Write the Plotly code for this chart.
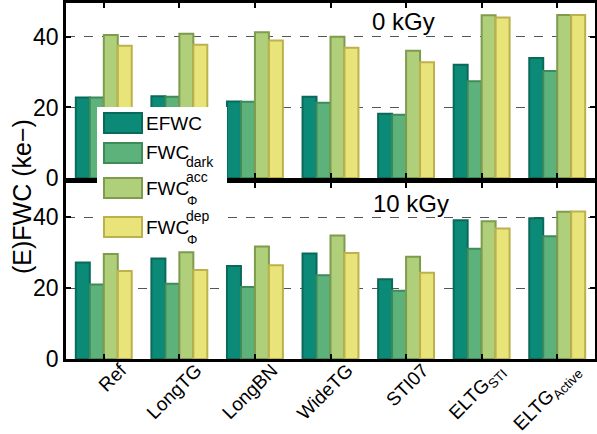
import plotly.graph_objects as go
from plotly.subplots import make_subplots

categories = ["Ref", "LongTG", "LongBN", "WideTG", "STI07", "ELTG<sub>STI</sub>", "ELTG<sub>Active</sub>"]
series_names = ["EFWC", "FWC_dark", "FWC_acc", "FWC_dep"]

# 0 kGy
efwc_0 = [22.8, 23.2, 21.7, 23.0, 18.2, 32.1, 34.0]
dark_0 = [22.8, 23.0, 21.6, 21.3, 17.9, 27.4, 30.3]
acc_0 = [40.5, 40.9, 41.3, 40.0, 36.1, 46.1, 46.2]
dep_0 = [37.5, 37.8, 39.0, 36.9, 32.8, 45.5, 46.2]

# 10 kGy
efwc_10 = [27.2, 28.3, 26.2, 29.7, 22.5, 39.1, 39.7]
dark_10 = [21.0, 21.2, 20.3, 23.6, 19.2, 31.1, 34.6]
acc_10 = [29.6, 30.1, 31.7, 34.8, 28.8, 38.8, 41.5]
dep_10 = [24.8, 25.1, 26.4, 29.9, 24.3, 36.8, 41.6]

panel_titles = ["0 kGy", "10 kGy"]
yticks = [0, 20, 40]

fills = ["#0b8b77", "#5db27b", "#afcf7b", "#e9e47a"]
edges = ["#0a6a5a", "#3f8a59", "#7e9b4e", "#bcb14c"]

FONT = "Liberation Sans, Arial, Helvetica, sans-serif"

fig = make_subplots(rows=2, cols=1, shared_xaxes=True, vertical_spacing=0.02)

top = [efwc_0, dark_0, acc_0, dep_0]
bot = [efwc_10, dark_10, acc_10, dep_10]
for i in range(4):
    fig.add_trace(go.Bar(x=categories, y=top[i], name=series_names[i],
                         marker=dict(color=fills[i], line=dict(color=edges[i], width=2)),
                         showlegend=False), row=1, col=1)
    fig.add_trace(go.Bar(x=categories, y=bot[i], name=series_names[i],
                         marker=dict(color=fills[i], line=dict(color=edges[i], width=2)),
                         showlegend=False), row=2, col=1)

W, H = 597, 434
L, R, T, B = 66, 2, 3, 75
PW = W - L - R
PH = H - T - B

def px(x):
    return (x - L) / PW

def py(y):
    return (H - B - y) / PH

fig.update_layout(
    width=W, height=H,
    margin=dict(l=L, r=R, t=T, b=B, autoexpand=False),
    paper_bgcolor="white", plot_bgcolor="white",
    barmode="group", bargap=0.26, bargroupgap=0.0,
    font=dict(family=FONT, color="black"),
)

axis_common = dict(showline=True, linewidth=2.5, linecolor="black", mirror="ticks",
                   ticks="inside", ticklen=5, tickwidth=1.5, tickcolor="black", automargin=False)

fig.update_xaxes(**axis_common, range=[-0.5, 6.5], showgrid=False,
                 tickangle=-45, tickfont=dict(size=19, family=FONT),
                 ticklabelshift=17, ticklabelstandoff=-10)
fig.update_xaxes(showticklabels=False, row=1, col=1)

fig.update_yaxes(**axis_common, range=[0, 49.6], tickvals=yticks,
                 showgrid=True, gridcolor="#555555", griddash="dash", gridwidth=1,
                 zeroline=False, tickfont=dict(size=23, family=FONT))

fig.layout.yaxis.domain = [py(178), 1.0]
fig.layout.yaxis2.domain = [0.0, py(183)]

annotations = []
# panel titles
annotations.append(dict(x=px(403), y=py(22), xref="paper", yref="paper", text=panel_titles[0],
                        showarrow=False, font=dict(size=24, family=FONT), xanchor="center", yanchor="middle"))
annotations.append(dict(x=px(411), y=py(203), xref="paper", yref="paper", text=panel_titles[1],
                        showarrow=False, font=dict(size=24, family=FONT), xanchor="center", yanchor="middle"))
# y title
annotations.append(dict(x=px(22), y=py(197), xref="paper", yref="paper", text="(E)FWC (ke\u2212)",
                        showarrow=False, textangle=-90, font=dict(size=25, family=FONT),
                        xanchor="center", yanchor="middle"))

shapes = []
# legend box
shapes.append(dict(type="rect", xref="paper", yref="paper", x0=px(97), x1=px(227), y0=py(247), y1=py(107),
                   fillcolor="white", line=dict(width=0), layer="above"))
sw_y = [(113, 133), (143, 163), (178, 198), (217, 237)]
for i, (y0, y1) in enumerate(sw_y):
    shapes.append(dict(type="rect", xref="paper", yref="paper", x0=px(104), x1=px(142),
                       y0=py(y1), y1=py(y0), fillcolor=fills[i],
                       line=dict(color=edges[i], width=2), layer="above"))

def txt(x, y, s, size, anchor="left"):
    annotations.append(dict(x=px(x), y=py(y), xref="paper", yref="paper", text=s, showarrow=False,
                            font=dict(size=size, family=FONT), xanchor=anchor, yanchor="middle",
                            borderpad=0))

txt(145, 123, "EFWC", 19)
txt(145, 152, "FWC", 19)
txt(185, 162, "dark", 14)
txt(145, 188, "FWC", 19)
txt(185, 177, "acc", 14)
txt(186, 200, "\u03a6", 13)
txt(145, 227, "FWC", 19)
txt(185, 216, "dep", 14)
txt(186, 239, "\u03a6", 13)

fig.update_layout(annotations=annotations, shapes=shapes)

fig.write_html("out.html")
